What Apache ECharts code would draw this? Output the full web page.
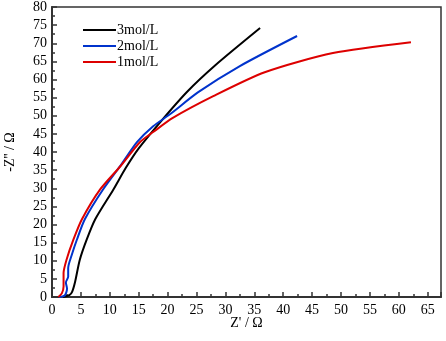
<!DOCTYPE html>
<html>
<head>
<meta charset="utf-8">
<script src="https://cdn.jsdelivr.net/npm/echarts@6/dist/echarts.min.js"></script>
<style>
html, body { margin: 0; padding: 0; background: #fff; }
#chart { width: 446px; height: 341px; }
</style>
</head>
<body>
<div id="chart"></div>
<script>
var dom = document.getElementById('chart');
var myChart = echarts.init(dom, null, { renderer: 'canvas' });

// Nyquist curves, [Z', -Z''] in ohm
let names = ['3mol/L', '2mol/L', '1mol/L'];
let colors = ['#000000', '#0033cc', '#dd0000'];
let data3 = [[1.9, 0], [3.0, 0.5], [3.5, 1.5], [4.0, 4.2], [4.8, 10.2], [6.0, 15.8], [7.5, 21.5],
    [10.6, 29.6], [12.8, 35.7], [15.0, 41], [18.7, 48.2], [23.3, 56.5], [28.3, 64], [36, 74.2]];
let data2 = [[1.2, 0], [2.2, 0.4], [2.6, 2.3], [2.4, 4], [2.8, 5.6], [2.8, 8], [3.4, 11.5], [4.3, 15.8],
    [5.7, 21.5], [8.8, 29.6], [12.1, 36.8], [14.7, 42.7], [17.5, 47.1], [20.4, 50.4], [25.3, 56.5],
    [32.5, 63.7], [42.4, 72]];
let data1 = [[1.1, 0], [1.7, 1], [2.0, 2.9], [2.0, 6.6], [2.5, 10.2], [3.7, 15.8], [5.2, 21.5],
    [8.3, 29.6], [11.8, 36], [15.2, 42.7], [17.5, 45.5], [20.9, 49.4], [27.9, 55.4], [36.8, 62],
    [48.6, 67.3], [62.1, 70.3]];
let allData = [data3, data2, data1];

var font = "'Liberation Serif', 'Times New Roman', serif";
var axisColor = '#333';

var option = {
    animation: false,
    textStyle: { fontFamily: font },
    grid: {
        left: 52, top: 7, right: 5, bottom: 44,
        outerBoundsMode: 'none',
        show: true,
        borderColor: axisColor,
        borderWidth: 1.5
    },
    legend: {
        data: names,
        orient: 'vertical',
        left: 78,
        top: 17,
        icon: 'rect',
        itemWidth: 33,
        itemHeight: 2,
        itemGap: 0,
        textStyle: { fontFamily: font, fontSize: 14, lineHeight: 16, color: '#000', padding: [0, 0, 0, -4] }
    },
    xAxis: {
        type: 'value',
        min: 0,
        max: 67.3,
        interval: 5,
        name: "Z' / Ω",
        nameLocation: 'middle',
        nameGap: 19,
        nameMoveOverlap: false,
        nameTextStyle: { fontFamily: font, fontSize: 14, color: '#000' },
        axisLine: { lineStyle: { color: axisColor, width: 2 } },
        axisTick: { inside: true, length: 5, lineStyle: { color: axisColor, width: 1.5 } },
        minorTick: { show: true, splitNumber: 2, length: 3, lineStyle: { color: axisColor, width: 1.5 } },
        axisLabel: {
            fontFamily: font, fontSize: 14, color: '#000', margin: 6,
            showMaxLabel: false
        },
        splitLine: { show: false }
    },
    yAxis: {
        type: 'value',
        min: 0,
        max: 80,
        interval: 5,
        name: "-Z'' / Ω",
        nameLocation: 'middle',
        nameGap: 35,
        nameMoveOverlap: false,
        nameTextStyle: { fontFamily: font, fontSize: 14, color: '#000' },
        axisLine: { lineStyle: { color: axisColor, width: 2 } },
        axisTick: { inside: true, length: 5, lineStyle: { color: axisColor, width: 1.5 } },
        minorTick: { show: true, splitNumber: 2, length: 3, lineStyle: { color: axisColor, width: 1.5 } },
        axisLabel: { fontFamily: font, fontSize: 14, color: '#000', margin: 5 },
        splitLine: { show: false }
    },
    series: names.map(function (n, i) {
        return {
            name: n,
            type: 'line',
            symbol: 'none',
            smooth: 0.25,
            lineStyle: { color: colors[i], width: 2 },
            itemStyle: { color: colors[i] },
            data: allData[i]
        };
    })
};

myChart.setOption(option);
window.addEventListener('resize', myChart.resize);
</script>
</body>
</html>
